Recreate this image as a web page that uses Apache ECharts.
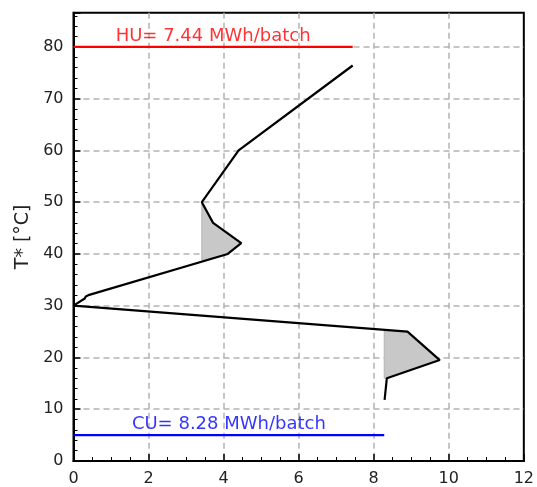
<!DOCTYPE html>
<html>
<head>
<meta charset="utf-8">
<script src="https://cdn.jsdelivr.net/npm/echarts@6/dist/echarts.min.js"></script>
<style>
  html, body { margin: 0; padding: 0; background: #fff; }
  #chart { width: 537px; height: 487px; }
</style>
</head>
<body>
<div id="chart"></div>
<script>
// Grand composite curve: net heat flow (MWh/batch) vs shifted temperature T* (°C)
var gccHeat = [7.44, 4.40, 3.42, 3.72, 4.47, 4.11, 0.42, 0.33, 0.30, 0.00, 8.90, 9.76, 8.35, 8.29];
var gccTemp = [76.4, 60.0, 50.0, 46.0, 42.1, 40.0, 32.1, 31.8, 31.4, 30.0, 25.0, 19.5, 16.0, 11.8];

// Heat recovery pockets (shaded)
var pocket1Heat = [3.42, 3.72, 4.47, 4.11, 3.42];
var pocket1Temp = [50.0, 46.0, 42.1, 40.0, 38.8];
var pocket2Heat = [8.28, 8.90, 9.76, 8.35, 8.28];
var pocket2Temp = [25.35, 25.0, 19.5, 16.0, 16.0];

// Utility targets
var hotUtility = 7.44;   // MWh/batch
var coldUtility = 8.28;  // MWh/batch
var hotUtilityTemp = 80;
var coldUtilityTemp = 5;

// Axis settings
var xTicks = [0, 2, 4, 6, 8, 10, 12];
var yTicks = [0, 10, 20, 30, 40, 50, 60, 70, 80];
var yMax = 86.6;

function pairs(xs, ys) {
  return xs.map(function (x, i) { return [x, ys[i]]; });
}

var FONT = 'DejaVu Sans';
var chart = echarts.init(document.getElementById('chart'), null, { renderer: 'canvas' });

function pocketSeries(xs, ys) {
  return {
    type: 'custom',
    silent: true,
    z: 1,
    data: [0],
    renderItem: function (params, api) {
      var pts = xs.map(function (x, i) { return api.coord([x, ys[i]]); });
      return {
        type: 'polygon',
        shape: { points: pts },
        style: { fill: '#c8c8c8', stroke: '#b4b4b4', lineWidth: 1 }
      };
    }
  };
}

var axisCommon = {
  type: 'value',
  axisLine: { show: true, lineStyle: { color: '#000', width: 2 } },
  axisTick: { show: true, inside: true, length: 7, lineStyle: { color: '#000', width: 1.5 } },
  minorTick: { show: true, length: 4, lineStyle: { color: '#000', width: 1 } },
  splitLine: {
    show: true, showMinLine: false, showMaxLine: false,
    lineStyle: { color: '#b3b3b3', width: 1.5, type: [6, 4] }
  },
  axisLabel: { color: '#222', fontFamily: FONT, fontSize: 16 }
};

var option = {
  animation: false,
  backgroundColor: '#fff',
  grid: {
    left: 73.5, right: 9.5, top: 12.7, bottom: 26,
    show: true, borderColor: '#000', borderWidth: 2, backgroundColor: 'transparent'
  },
  xAxis: Object.assign({}, axisCommon, {
    min: xTicks[0], max: xTicks[xTicks.length - 1], interval: 2,
    minorTick: Object.assign({}, axisCommon.minorTick, { splitNumber: 4 }),
    axisLabel: Object.assign({}, axisCommon.axisLabel, { margin: 10 })
  }),
  yAxis: Object.assign({}, axisCommon, {
    min: yTicks[0], max: yMax, interval: 10,
    minorTick: Object.assign({}, axisCommon.minorTick, { splitNumber: 5 }),
    axisLabel: Object.assign({}, axisCommon.axisLabel, {
      margin: 10,
      formatter: function (v) { return yTicks.indexOf(v) >= 0 ? String(v) : ''; }
    }),
    name: 'T* [°C]',
    nameLocation: 'middle',
    nameGap: 37,
    nameTextStyle: { color: '#222', fontFamily: FONT, fontSize: 19 }
  }),
  series: [
    pocketSeries(pocket1Heat, pocket1Temp),
    pocketSeries(pocket2Heat, pocket2Temp),
    {
      type: 'line',
      data: pairs(gccHeat, gccTemp),
      showSymbol: false,
      symbol: 'none',
      z: 3,
      lineStyle: { color: '#000', width: 2.2 }
    },
    {
      type: 'line',
      data: [[0, hotUtilityTemp], [hotUtility, hotUtilityTemp]],
      symbol: 'none',
      z: 3,
      lineStyle: { color: '#ff0000', width: 2.2 }
    },
    {
      type: 'line',
      data: [[0, coldUtilityTemp], [coldUtility, coldUtilityTemp]],
      symbol: 'none',
      z: 3,
      lineStyle: { color: '#0000ff', width: 2.2 }
    },
    {
      type: 'scatter',
      symbolSize: 0,
      z: 4,
      data: [
        { value: [hotUtility / 2, hotUtilityTemp],
          label: { formatter: 'HU= ' + hotUtility.toFixed(2) + ' MWh/batch', color: '#ff0000' } },
        { value: [coldUtility / 2, coldUtilityTemp],
          label: { formatter: 'CU= ' + coldUtility.toFixed(2) + ' MWh/batch', color: '#0000ff' } }
      ],
      label: { show: true, position: 'top', distance: 2, fontFamily: FONT, fontSize: 18 }
    }
  ]
};

chart.setOption(option);
</script>
</body>
</html>
